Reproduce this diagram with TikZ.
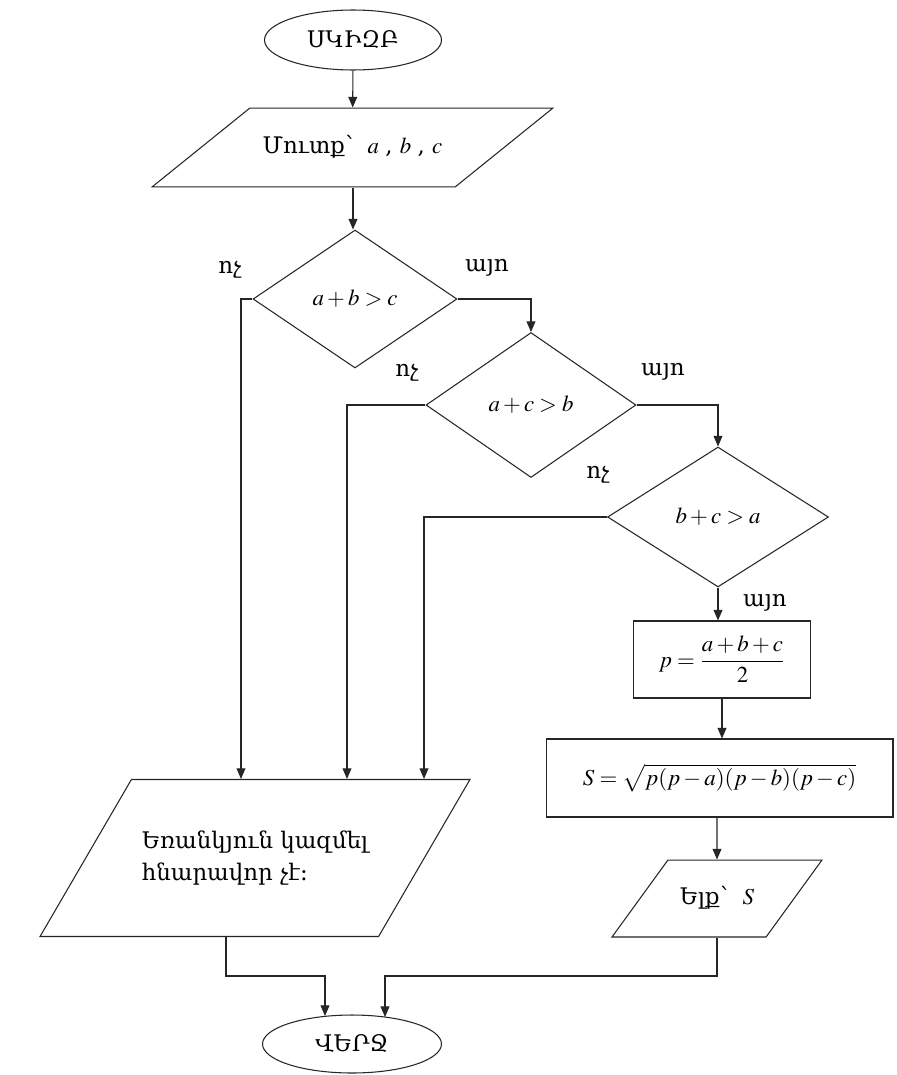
\documentclass[tikz,border=0pt]{standalone}
\usepackage{mathptmx}
\usepackage{fontspec}
\setmainfont{Liberation Serif}
\newfontfamily\armfont{DejaVu Serif}
\usetikzlibrary{shapes.geometric,arrows.meta}

\tikzset{
  blk/.style={draw=black!85, line width=0.6pt, inner sep=0pt,
              font=\armfont\fontsize{13}{16}\selectfont},
  term/.style={blk, ellipse},
  iobox/.style={blk, trapezium, trapezium stretches body=true},
  cond/.style={blk, diamond},
  proc/.style={blk, rectangle},
  lbl/.style={font=\armfont\fontsize{13}{16}\selectfont, inner sep=0pt},
  flow arrow/.style={-{Triangle[length=6pt,width=5pt]}, black!85, line width=0.6pt},
}
\colorlet{bgcol}{white}

\begin{document}
\begin{tikzpicture}[x=0.02cm, y=-0.02cm]
    % pixel grid of the page: 896 x 1075
    \useasboundingbox[fill=bgcol] (0,0) rectangle (896,1075);

    % --- start and input ---
    \node[term, minimum width=3.54cm, minimum height=1.2cm] (start) at (353,40) {ՍԿԻԶԲ};
    \node[iobox, minimum width=8.02cm, text height=10pt, text depth=3pt, inner ysep=0.561cm,
          trapezium left angle=38.9, trapezium right angle=141.1] (in) at (352.5,147.5)
          {Մուտք՝~~$a$\;,~$b$\;,~$c$};

    % --- the three tests ---
    \node[cond, minimum width=4.08cm, minimum height=2.76cm] (d1) at (355,299) {$a+b>c$};
    \node[cond, minimum width=4.2cm, minimum height=2.9cm] (d2) at (531,405) {$a+c>b$};
    \node[cond, minimum width=4.42cm, minimum height=2.8cm] (d3) at (718,517) {$b+c>a$};

    % --- area branch ---
    \node[proc, minimum width=3.54cm, minimum height=1.54cm] (p) at (722,659.5)
          {$p=\displaystyle\frac{a+b+c}{2}$};
    \node[proc, minimum width=6.94cm, minimum height=1.56cm] (S) at (719.5,778)
          {$S=\sqrt{p(p-a)(p-b)(p-c)}$};
    \node[iobox, minimum width=4.2cm, text height=10pt, text depth=3pt, inner ysep=0.541cm,
          trapezium left angle=54, trapezium right angle=126] (out) at (717,898.5)
          {Ելք՝~~$S$};

    % --- no-triangle output and end ---
    \node[iobox, minimum width=8.6cm, inner ysep=1.03cm, align=left,
          trapezium left angle=59.8, trapezium right angle=120.2] (err) at (255,858)
          {Եռանկյուն կազմել\\[2pt]հնարավոր չէ։\hspace{4em}};
    \node[term, minimum width=3.58cm, minimum height=1.16cm] (end) at (352,1044) {ՎԵՐՋ};

    % --- branch labels ---
    \node[lbl] (no1) at (230,270) {ոչ};
    \node[lbl] (yes1) at (487,268) {այո};
    \node[lbl] (no2) at (407,373) {ոչ};
    \node[lbl] (yes2) at (663,372) {այո};
    \node[lbl] (no3) at (598,475) {ոչ};
    \node[lbl] (yes3) at (765,603) {այո};

    % --- free ends of the connectors ---
    \coordinate (n1) at (241,0 |- err.north);
    \coordinate (n2) at (347,0 |- err.north);
    \coordinate (n3) at (424,0 |- err.north);
    \coordinate (e1) at (226,0 |- err.south);
    \coordinate (j1) at (0,976);
    \coordinate (t1) at (325,1016);
    \coordinate (t2) at (385,1017);

    % --- main line ---
    \draw[flow arrow] (start) -- (in);
    \draw[flow arrow] (in.south -| start) -- (start |- d1.north);
    \draw[flow arrow] (d1.east) -| (d2.north);
    \draw[flow arrow] (d2.east) -| (d3.north);
    \draw[flow arrow] (d3.south) -- (d3.south |- p.north);
    \draw[flow arrow] (p) -- (p.south |- S.north);
    \draw[flow arrow] (S.south -| out) -- (out);

    % --- the "no" lines ---
    \draw[flow arrow] (d1.west) -| (n1);
    \draw[flow arrow] (d2.west) -| (n2);
    \draw[flow arrow] (d3.west) -| (n3);

    % --- into the end ---
    \draw[flow arrow] (e1) -- (e1 |- j1) -| (t1);
    \draw[flow arrow] (out.south) -- (out.south |- j1) -| (t2);
\end{tikzpicture}
\end{document}
